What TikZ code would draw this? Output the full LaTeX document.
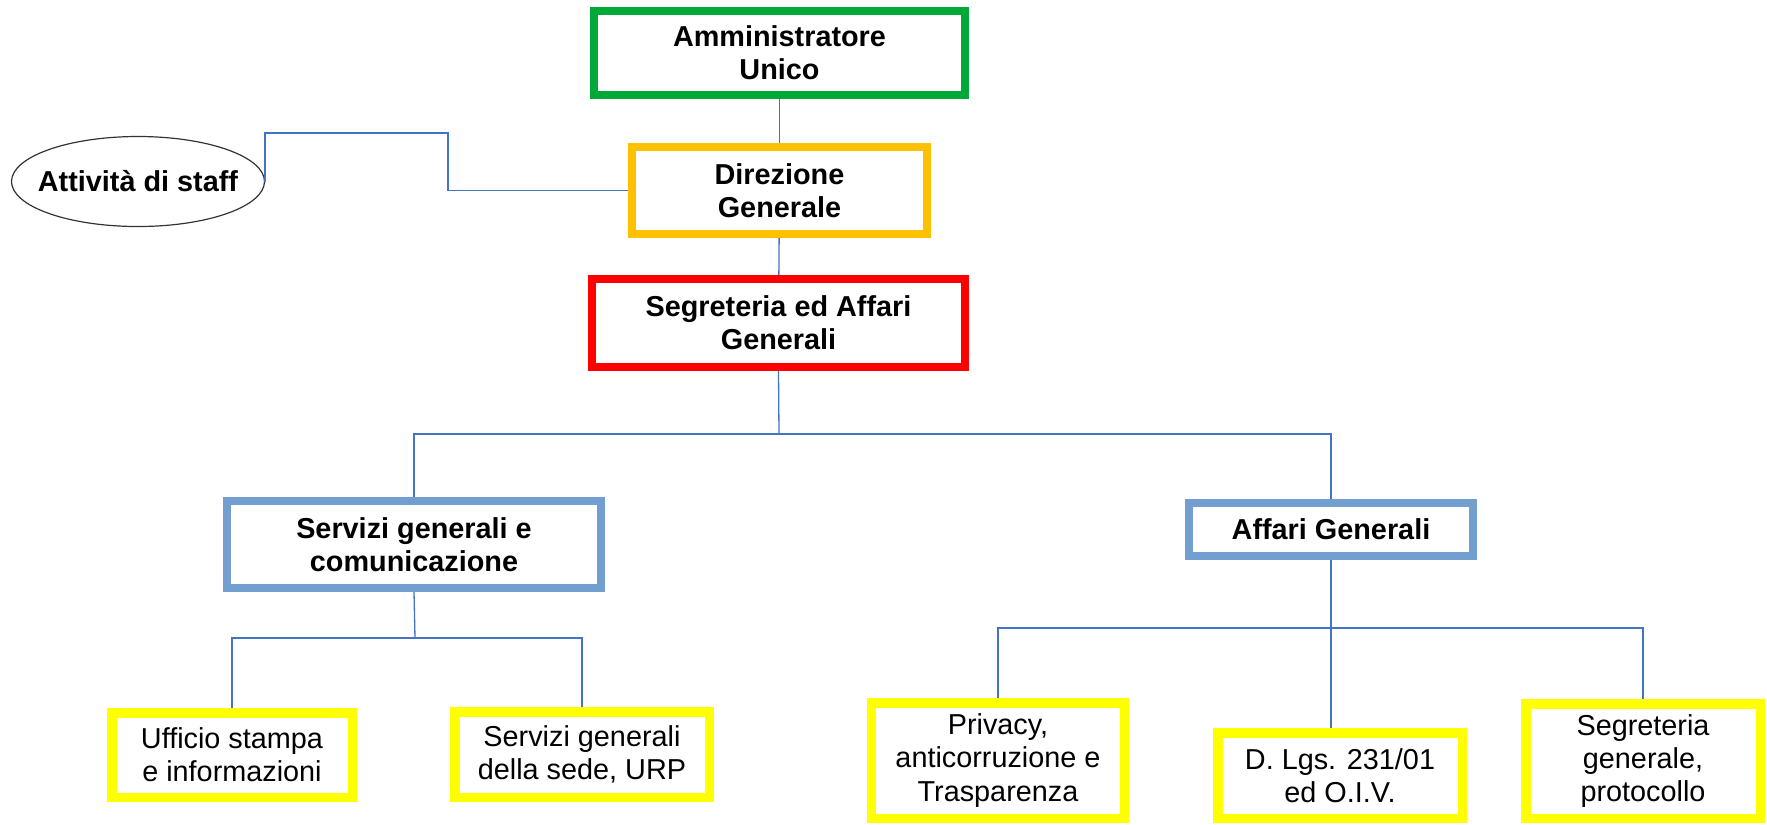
\documentclass[tikz,border=0pt]{standalone}
\usepackage{fontspec}
\setmainfont{Liberation Sans}
\usetikzlibrary{shapes.geometric}

\definecolor{ammgreen}{HTML}{00A838}
\definecolor{dirorange}{HTML}{FFC000}
\definecolor{segred}{HTML}{FF0000}
\definecolor{areablue}{HTML}{729FCF}
\definecolor{leafyellow}{HTML}{FFFF00}
\definecolor{linkblue}{HTML}{4472C4}

\begin{document}
\begin{tikzpicture}[x=0.1mm, y=-0.1mm,
    box/.style={draw, rectangle, line width=0.8mm, fill=white, align=center, inner sep=0pt,
      font=\fontsize{8.2}{9.4}\selectfont\bfseries},
    leaf/.style={box, draw=leafyellow, line width=0.95mm, font=\fontsize{8.2}{9.4}\selectfont},
    conn/.style={draw=linkblue, line width=0.13mm}]
  \useasboundingbox (0,0) rectangle (1767,824);

  % vertice
  \node[box, draw=ammgreen, minimum width=37.1mm, minimum height=8.4mm] (amm) at (779.5,53) {Amministratore\\Unico};
  \node[box, draw=dirorange, minimum width=29.5mm, minimum height=8.7mm] (dir) at (779.5,190.5) {Direzione\\Generale};
  \node[box, draw=segred, minimum width=37.3mm, minimum height=8.8mm] (seg) at (778.5,323) {Segreteria ed Affari\\Generali};
  \node[draw=black!80, ellipse, line width=0.12mm, inner xsep=-1.2mm, inner ysep=0pt, minimum width=25.3mm, minimum height=9mm,
    font=\fontsize{8.2}{9.4}\selectfont\bfseries] (staff) at (138,181.5) {Attivit\`a di staff};

  % aree
  \node[box, draw=areablue, minimum width=37.4mm, minimum height=8.7mm] (serv) at (414,544.5) {Servizi generali e\\comunicazione};
  \node[box, draw=areablue, minimum width=28.4mm, minimum height=5.3mm] (aff) at (1331,529.5) {Affari Generali};

  % uffici
  \node[leaf, minimum width=24.05mm, minimum height=8.45mm] (uff) at (232,755) {Ufficio stampa\\e informazioni};
  \node[leaf, minimum width=25.45mm, minimum height=8.55mm] (sede) at (582,754.5) {Servizi generali\\della sede, URP};
  \node[leaf, minimum width=25.3mm, minimum height=11.55mm] (priv) at (998,760.5) {Privacy,\\anticorruzione e\\Trasparenza};
  \node[leaf, minimum width=24.45mm, minimum height=8.55mm] (dlgs) at (1340,775.5) {D. Lgs. 231/01\\ed O.I.V.};
  \node[leaf, minimum width=23.45mm, minimum height=11.45mm] (sgen) at (1643,761) {Segreteria\\generale,\\protocollo};

  \coordinate (staffbend) at (448,133);
  \coordinate (segfork) at (779,434);
  \coordinate (servfork) at (415,638);
  \coordinate (afffork) at (1331,628);

  \draw[conn] (amm) -- (dir);
  \draw[conn] (dir) -- (seg);
  \draw[conn] (staff.east) |- (staffbend) |- (dir.west);
  \draw[conn] (seg.south) -- (segfork);
  \draw[conn] (segfork) -| (serv.north);
  \draw[conn] (segfork) -| (aff.north);
  \draw[conn] (serv.south) -- (servfork);
  \draw[conn] (servfork) -| (uff.north);
  \draw[conn] (servfork) -| (sede.north);
  \draw[conn] (aff.south) -- (aff.south |- dlgs.north);
  \draw[conn] (afffork) -| (priv.north);
  \draw[conn] (afffork) -| (sgen.north);
\end{tikzpicture}
\end{document}
